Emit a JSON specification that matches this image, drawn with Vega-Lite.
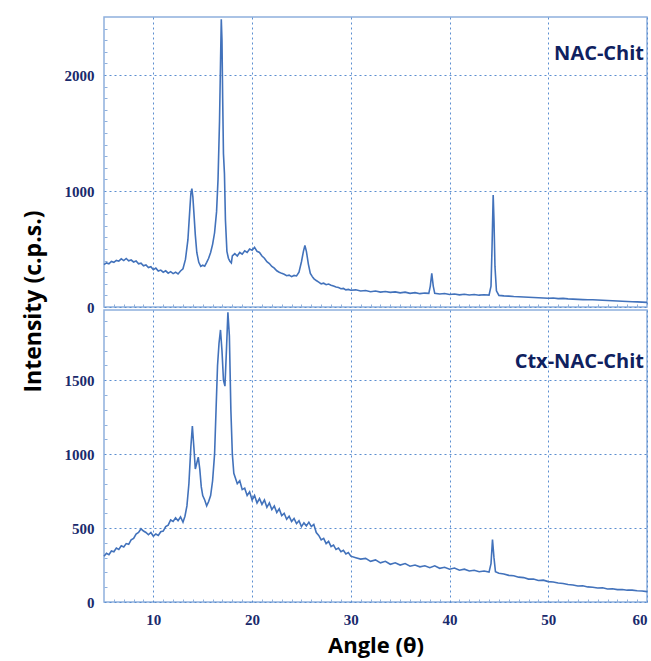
{
  "$schema": "https://vega.github.io/schema/vega-lite/v6.json",
  "padding": {"left": 10, "top": 15, "right": 5, "bottom": 3},
  "background": "white",
  "spacing": 3,
  "bounds": "flush",
  "config": {
    "view": {"stroke": "#8fb0dd", "strokeWidth": 1.5},
    "axis": {
      "labelFont": "Liberation Serif", "labelFontWeight": "bold", "labelFontSize": 15, "labelColor": "#1a2a6c",
      "grid": true, "gridColor": "#5b8ed0", "gridDash": [2, 3], "gridWidth": 1,
      "domain": false, "ticks": false, "format": "d",
      "titleFont": "Open Sans", "titleFontWeight": "bold", "titleFontSize": 22, "titleColor": "#000000"
    }
  },
  "datasets": {
    "nac": [
      {"angle":5.0,"cps":365},{"angle":5.25,"cps":380},{"angle":5.5,"cps":372},{"angle":5.75,"cps":392},{"angle":6.0,"cps":385},{"angle":6.25,"cps":402},{"angle":6.5,"cps":395},{"angle":6.75,"cps":415},{"angle":7.0,"cps":400},{"angle":7.25,"cps":418},{"angle":7.5,"cps":398},{"angle":7.75,"cps":405},{"angle":8.0,"cps":388},{"angle":8.25,"cps":396},{"angle":8.5,"cps":372},{"angle":8.75,"cps":378},{"angle":9.0,"cps":355},{"angle":9.25,"cps":362},{"angle":9.5,"cps":340},{"angle":9.75,"cps":348},{"angle":10.0,"cps":322},{"angle":10.25,"cps":335},{"angle":10.5,"cps":310},{"angle":10.75,"cps":318},{"angle":11.0,"cps":300},{"angle":11.25,"cps":312},{"angle":11.5,"cps":292},{"angle":11.75,"cps":305},{"angle":12.0,"cps":288},{"angle":12.25,"cps":300},{"angle":12.5,"cps":285},{"angle":12.75,"cps":310},{"angle":13.0,"cps":330},{"angle":13.25,"cps":410},{"angle":13.5,"cps":580},{"angle":13.7,"cps":850},{"angle":13.8,"cps":980},{"angle":13.9,"cps":1020},{"angle":14.0,"cps":950},{"angle":14.1,"cps":820},{"angle":14.25,"cps":620},{"angle":14.4,"cps":470},{"angle":14.6,"cps":385},{"angle":14.8,"cps":350},{"angle":15.0,"cps":360},{"angle":15.2,"cps":352},{"angle":15.4,"cps":385},{"angle":15.6,"cps":420},{"angle":15.8,"cps":470},{"angle":16.0,"cps":540},{"angle":16.2,"cps":640},{"angle":16.4,"cps":820},{"angle":16.55,"cps":1100},{"angle":16.7,"cps":1600},{"angle":16.8,"cps":2100},{"angle":16.88,"cps":2480},{"angle":16.95,"cps":2300},{"angle":17.02,"cps":1800},{"angle":17.1,"cps":1320},{"angle":17.2,"cps":1150},{"angle":17.3,"cps":750},{"angle":17.45,"cps":480},{"angle":17.6,"cps":420},{"angle":17.75,"cps":395},{"angle":17.9,"cps":380},{"angle":18.0,"cps":440},{"angle":18.25,"cps":460},{"angle":18.5,"cps":440},{"angle":18.75,"cps":470},{"angle":19.0,"cps":455},{"angle":19.25,"cps":485},{"angle":19.5,"cps":470},{"angle":19.75,"cps":500},{"angle":20.0,"cps":490},{"angle":20.25,"cps":515},{"angle":20.5,"cps":480},{"angle":20.75,"cps":470},{"angle":21.0,"cps":440},{"angle":21.25,"cps":420},{"angle":21.5,"cps":390},{"angle":21.75,"cps":375},{"angle":22.0,"cps":350},{"angle":22.25,"cps":335},{"angle":22.5,"cps":312},{"angle":22.75,"cps":300},{"angle":23.0,"cps":290},{"angle":23.25,"cps":282},{"angle":23.5,"cps":270},{"angle":23.75,"cps":275},{"angle":24.0,"cps":262},{"angle":24.25,"cps":272},{"angle":24.5,"cps":268},{"angle":24.75,"cps":300},{"angle":25.0,"cps":390},{"angle":25.2,"cps":480},{"angle":25.35,"cps":530},{"angle":25.5,"cps":480},{"angle":25.7,"cps":370},{"angle":25.9,"cps":290},{"angle":26.1,"cps":262},{"angle":26.25,"cps":245},{"angle":26.5,"cps":228},{"angle":26.75,"cps":215},{"angle":27.0,"cps":200},{"angle":27.25,"cps":205},{"angle":27.5,"cps":192},{"angle":27.75,"cps":198},{"angle":28.0,"cps":188},{"angle":28.25,"cps":180},{"angle":28.5,"cps":172},{"angle":28.75,"cps":168},{"angle":29.0,"cps":158},{"angle":29.25,"cps":160},{"angle":29.5,"cps":148},{"angle":29.75,"cps":152},{"angle":30.0,"cps":145},{"angle":30.5,"cps":148},{"angle":31.0,"cps":138},{"angle":31.5,"cps":142},{"angle":32.0,"cps":132},{"angle":32.5,"cps":138},{"angle":33.0,"cps":128},{"angle":33.5,"cps":134},{"angle":34.0,"cps":126},{"angle":34.5,"cps":130},{"angle":35.0,"cps":122},{"angle":35.5,"cps":128},{"angle":36.0,"cps":118},{"angle":36.5,"cps":124},{"angle":37.0,"cps":115},{"angle":37.5,"cps":120},{"angle":37.9,"cps":118},{"angle":38.05,"cps":180},{"angle":38.2,"cps":290},{"angle":38.35,"cps":180},{"angle":38.5,"cps":118},{"angle":39.0,"cps":112},{"angle":39.5,"cps":116},{"angle":40.0,"cps":108},{"angle":40.5,"cps":112},{"angle":41.0,"cps":105},{"angle":41.5,"cps":110},{"angle":42.0,"cps":104},{"angle":42.5,"cps":108},{"angle":43.0,"cps":102},{"angle":43.5,"cps":106},{"angle":44.0,"cps":103},{"angle":44.2,"cps":180},{"angle":44.3,"cps":500},{"angle":44.42,"cps":965},{"angle":44.5,"cps":750},{"angle":44.6,"cps":350},{"angle":44.75,"cps":140},{"angle":45.0,"cps":100},{"angle":45.5,"cps":96},{"angle":46.0,"cps":94},{"angle":46.5,"cps":90},{"angle":47.0,"cps":88},{"angle":47.5,"cps":86},{"angle":48.0,"cps":84},{"angle":48.5,"cps":82},{"angle":49.0,"cps":80},{"angle":49.5,"cps":78},{"angle":50.0,"cps":76},{"angle":50.5,"cps":78},{"angle":51.0,"cps":72},{"angle":51.5,"cps":74},{"angle":52.0,"cps":70},{"angle":52.5,"cps":68},{"angle":53.0,"cps":66},{"angle":53.5,"cps":64},{"angle":54.0,"cps":62},{"angle":54.5,"cps":62},{"angle":55.0,"cps":60},{"angle":55.5,"cps":58},{"angle":56.0,"cps":56},{"angle":56.5,"cps":54},{"angle":57.0,"cps":52},{"angle":57.5,"cps":50},{"angle":58.0,"cps":48},{"angle":58.5,"cps":45},{"angle":59.0,"cps":44},{"angle":59.5,"cps":42},{"angle":60.0,"cps":40}
    ],
    "ctx": [
      {"angle":5.0,"cps":310},{"angle":5.25,"cps":330},{"angle":5.5,"cps":320},{"angle":5.75,"cps":345},{"angle":6.0,"cps":340},{"angle":6.25,"cps":365},{"angle":6.5,"cps":355},{"angle":6.75,"cps":380},{"angle":7.0,"cps":372},{"angle":7.25,"cps":395},{"angle":7.5,"cps":390},{"angle":7.75,"cps":420},{"angle":8.0,"cps":430},{"angle":8.25,"cps":460},{"angle":8.5,"cps":470},{"angle":8.75,"cps":495},{"angle":9.0,"cps":480},{"angle":9.25,"cps":470},{"angle":9.5,"cps":455},{"angle":9.75,"cps":470},{"angle":10.0,"cps":445},{"angle":10.25,"cps":460},{"angle":10.5,"cps":450},{"angle":10.75,"cps":475},{"angle":11.0,"cps":480},{"angle":11.25,"cps":510},{"angle":11.5,"cps":520},{"angle":11.75,"cps":555},{"angle":12.0,"cps":545},{"angle":12.25,"cps":570},{"angle":12.5,"cps":550},{"angle":12.75,"cps":575},{"angle":13.0,"cps":540},{"angle":13.2,"cps":580},{"angle":13.4,"cps":650},{"angle":13.6,"cps":800},{"angle":13.8,"cps":1050},{"angle":13.95,"cps":1190},{"angle":14.1,"cps":1050},{"angle":14.25,"cps":900},{"angle":14.4,"cps":940},{"angle":14.55,"cps":980},{"angle":14.7,"cps":900},{"angle":14.85,"cps":780},{"angle":15.0,"cps":720},{"angle":15.2,"cps":690},{"angle":15.4,"cps":650},{"angle":15.6,"cps":680},{"angle":15.8,"cps":720},{"angle":16.0,"cps":820},{"angle":16.2,"cps":1000},{"angle":16.35,"cps":1300},{"angle":16.5,"cps":1600},{"angle":16.65,"cps":1750},{"angle":16.8,"cps":1840},{"angle":16.95,"cps":1700},{"angle":17.1,"cps":1500},{"angle":17.25,"cps":1460},{"angle":17.4,"cps":1700},{"angle":17.55,"cps":1960},{"angle":17.7,"cps":1800},{"angle":17.85,"cps":1300},{"angle":18.0,"cps":1000},{"angle":18.15,"cps":870},{"angle":18.3,"cps":840},{"angle":18.5,"cps":800},{"angle":18.75,"cps":820},{"angle":19.0,"cps":760},{"angle":19.25,"cps":770},{"angle":19.5,"cps":720},{"angle":19.75,"cps":745},{"angle":20.0,"cps":690},{"angle":20.25,"cps":720},{"angle":20.5,"cps":670},{"angle":20.75,"cps":700},{"angle":21.0,"cps":660},{"angle":21.25,"cps":690},{"angle":21.5,"cps":640},{"angle":21.75,"cps":670},{"angle":22.0,"cps":625},{"angle":22.25,"cps":650},{"angle":22.5,"cps":605},{"angle":22.75,"cps":630},{"angle":23.0,"cps":585},{"angle":23.25,"cps":600},{"angle":23.5,"cps":560},{"angle":23.75,"cps":580},{"angle":24.0,"cps":545},{"angle":24.25,"cps":565},{"angle":24.5,"cps":530},{"angle":24.75,"cps":550},{"angle":25.0,"cps":510},{"angle":25.25,"cps":535},{"angle":25.5,"cps":515},{"angle":25.75,"cps":540},{"angle":26.0,"cps":510},{"angle":26.25,"cps":525},{"angle":26.5,"cps":470},{"angle":26.75,"cps":450},{"angle":27.0,"cps":420},{"angle":27.25,"cps":430},{"angle":27.5,"cps":395},{"angle":27.75,"cps":410},{"angle":28.0,"cps":375},{"angle":28.25,"cps":385},{"angle":28.5,"cps":355},{"angle":28.75,"cps":365},{"angle":29.0,"cps":340},{"angle":29.25,"cps":350},{"angle":29.5,"cps":325},{"angle":29.75,"cps":335},{"angle":30.0,"cps":310},{"angle":30.5,"cps":300},{"angle":31.0,"cps":290},{"angle":31.5,"cps":295},{"angle":32.0,"cps":275},{"angle":32.5,"cps":285},{"angle":33.0,"cps":265},{"angle":33.5,"cps":275},{"angle":34.0,"cps":255},{"angle":34.5,"cps":265},{"angle":35.0,"cps":250},{"angle":35.5,"cps":260},{"angle":36.0,"cps":242},{"angle":36.5,"cps":250},{"angle":37.0,"cps":238},{"angle":37.5,"cps":245},{"angle":38.0,"cps":232},{"angle":38.5,"cps":245},{"angle":39.0,"cps":228},{"angle":39.5,"cps":235},{"angle":40.0,"cps":222},{"angle":40.5,"cps":230},{"angle":41.0,"cps":215},{"angle":41.5,"cps":222},{"angle":42.0,"cps":210},{"angle":42.5,"cps":215},{"angle":43.0,"cps":205},{"angle":43.5,"cps":210},{"angle":44.0,"cps":202},{"angle":44.2,"cps":260},{"angle":44.35,"cps":422},{"angle":44.5,"cps":300},{"angle":44.65,"cps":205},{"angle":45.0,"cps":195},{"angle":45.5,"cps":190},{"angle":46.0,"cps":180},{"angle":46.5,"cps":178},{"angle":47.0,"cps":168},{"angle":47.5,"cps":165},{"angle":48.0,"cps":155},{"angle":48.5,"cps":155},{"angle":49.0,"cps":145},{"angle":49.5,"cps":148},{"angle":50.0,"cps":138},{"angle":50.5,"cps":135},{"angle":51.0,"cps":128},{"angle":51.5,"cps":125},{"angle":52.0,"cps":118},{"angle":52.5,"cps":115},{"angle":53.0,"cps":108},{"angle":53.5,"cps":110},{"angle":54.0,"cps":102},{"angle":54.5,"cps":100},{"angle":55.0,"cps":95},{"angle":55.5,"cps":96},{"angle":56.0,"cps":88},{"angle":56.5,"cps":90},{"angle":57.0,"cps":84},{"angle":57.5,"cps":85},{"angle":58.0,"cps":80},{"angle":58.5,"cps":80},{"angle":59.0,"cps":76},{"angle":59.5,"cps":74},{"angle":60.0,"cps":70}
    ]
  },
  "vconcat": [
    {
      "width": 543, "height": 290,
      "resolve": {"axis": {"x": "independent", "y": "independent"}},
      "layer": [
        {
          "data": {"name": "nac"},
          "mark": {"type": "line", "color": "#4272bb", "strokeWidth": 1.6},
          "encoding": {
            "x": {"field": "angle", "type": "quantitative", "scale": {"domain": [5, 60], "nice": false, "zero": false},
                  "axis": {"values": [10, 20, 30, 40, 50, 60], "labels": false, "title": null}},
            "y": {"field": "cps", "type": "quantitative", "scale": {"domain": [0, 2500], "nice": false},
                  "axis": {"values": [0, 1000, 2000], "title": null, "labelPadding": 10, "minExtent": 93, "maxExtent": 93}}
          }
        },
        {
          "data": {"values": [{"label": "NAC-Chit"}]},
          "mark": {"type": "text", "align": "right", "baseline": "middle", "font": "Open Sans", "fontWeight": "bold", "fontSize": 20, "color": "#0f2160"},
          "encoding": {
            "x": {"datum": 59.7, "axis": {"orient": "bottom", "grid": false, "labels": false, "title": null, "ticks": true, "tickSize": -3, "tickColor": "#8fb0dd", "values": [6,7,8,9,11,12,13,14,15,16,17,18,19,21,22,23,24,25,26,27,28,29,31,32,33,34,35,36,37,38,39,41,42,43,44,45,46,47,48,49,51,52,53,54,55,56,57,58,59]}},
            "y": {"datum": 2180, "axis": {"orient": "left", "grid": false, "labels": false, "title": null, "ticks": true, "tickSize": -3, "tickColor": "#8fb0dd", "values": [100,200,300,400,500,600,700,800,900,1100,1200,1300,1400,1500,1600,1700,1800,1900,2100,2200,2300,2400]}},
            "text": {"field": "label"}
          }
        }
      ]
    },
    {
      "width": 543, "height": 292,
      "resolve": {"axis": {"x": "independent", "y": "independent"}},
      "layer": [
        {
          "data": {"name": "ctx"},
          "mark": {"type": "line", "color": "#4272bb", "strokeWidth": 1.6},
          "encoding": {
            "x": {"field": "angle", "type": "quantitative", "scale": {"domain": [5, 60], "nice": false, "zero": false},
                  "axis": {"values": [10, 20, 30, 40, 50, 60], "title": "Angle (θ)", "labelPadding": 10, "titlePadding": 8}},
            "y": {"field": "cps", "type": "quantitative", "scale": {"domain": [0, 1975], "nice": false},
                  "axis": {"values": [0, 500, 1000, 1500], "title": "Intensity (c.p.s.)", "titleFontSize": 23, "labelPadding": 10, "minExtent": 93, "maxExtent": 93,
                           "titleX": -71, "titleY": -9, "titleAngle": -90, "titleAlign": "center", "titleBaseline": "middle"}}
          }
        },
        {
          "data": {"values": [{"label": "Ctx-NAC-Chit"}]},
          "mark": {"type": "text", "align": "right", "baseline": "middle", "font": "Open Sans", "fontWeight": "bold", "fontSize": 20, "color": "#0f2160"},
          "encoding": {
            "x": {"datum": 59.7, "axis": {"orient": "bottom", "grid": false, "labels": false, "title": null, "ticks": true, "tickSize": -3, "tickColor": "#8fb0dd", "values": [6,7,8,9,11,12,13,14,15,16,17,18,19,21,22,23,24,25,26,27,28,29,31,32,33,34,35,36,37,38,39,41,42,43,44,45,46,47,48,49,51,52,53,54,55,56,57,58,59]}},
            "y": {"datum": 1620, "axis": {"orient": "left", "grid": false, "labels": false, "title": null, "ticks": true, "tickSize": -3, "tickColor": "#8fb0dd", "values": [100,200,300,400,600,700,800,900,1100,1200,1300,1400,1600,1700,1800,1900]}},
            "text": {"field": "label"}
          }
        }
      ]
    }
  ]
}
